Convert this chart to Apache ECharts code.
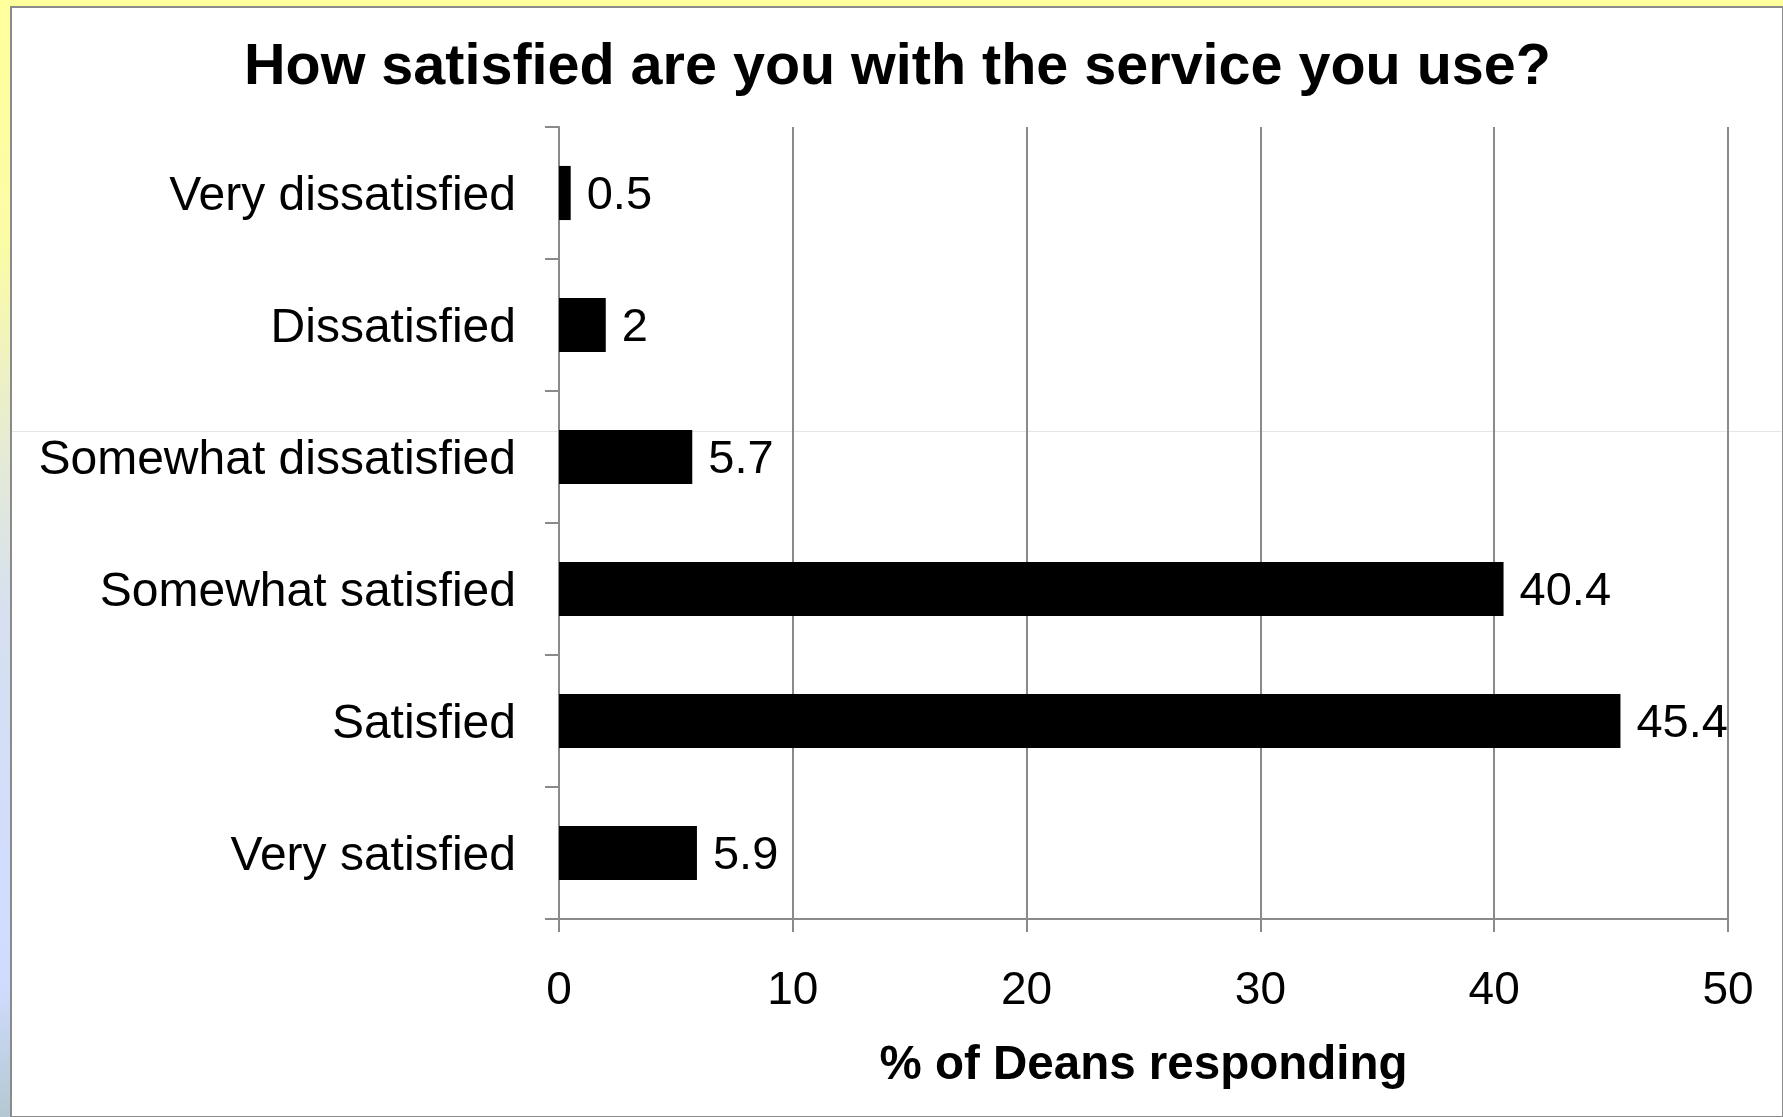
<!DOCTYPE html>
<html>
<head>
<meta charset="utf-8">
<script src="https://cdn.jsdelivr.net/npm/echarts@6/dist/echarts.min.js"></script>
<style>
html,body{margin:0;padding:0;background:#ffffff;}
#chart{width:1783px;height:1117px;}
</style>
</head>
<body>
<div id="chart"></div>
<script>
const titleText = 'How satisfied are you with the service you use?';
const axisTitle = '% of Deans responding';
const categories = ['Very dissatisfied','Dissatisfied','Somewhat dissatisfied','Somewhat satisfied','Satisfied','Very satisfied'];
const values = [0.5, 2, 5.7, 40.4, 45.4, 5.9];
const xTicks = [0, 10, 20, 30, 40, 50];

const FONT = '"Liberation Sans", Arial, sans-serif';
const chart = echarts.init(document.getElementById('chart'), null, {renderer: 'canvas'});
chart.setOption({
  backgroundColor: 'transparent',
  animation: false,
  graphic: [
    {type: 'rect', z: -10, silent: true, shape: {x: 0, y: 0, width: 1783, height: 1117}, style: {fill: '#ffff9c'}},
    {type: 'rect', z: -9, silent: true, shape: {x: 0, y: 0, width: 11, height: 1117},
      style: {fill: new echarts.graphic.LinearGradient(0, 0, 0, 1, [
        {offset: 0, color: '#ffff9c'},
        {offset: 0.22, color: '#fbfca6'},
        {offset: 0.4, color: '#e6ebd4'},
        {offset: 0.55, color: '#d6e0f0'},
        {offset: 0.75, color: '#d2ddfc'},
        {offset: 0.88, color: '#d0dcff'},
        {offset: 1, color: '#b4c8d2'}
      ])}},
    {type: 'rect', z: -8, silent: true, shape: {x: 11, y: 7, width: 1772, height: 1110}, style: {fill: '#ffffff', stroke: '#8a8a8a', lineWidth: 2}},
    {type: 'line', z: -7, silent: true, shape: {x1: 12, y1: 431.5, x2: 1781, y2: 431.5}, style: {stroke: '#e6e6e0', lineWidth: 1}}
  ],
  title: {
    text: titleText,
    left: 239,
    top: 34,
    textStyle: {fontFamily: FONT, fontWeight: 'bold', fontSize: 57.5, color: '#000'}
  },
  grid: {left: 559, right: 55, top: 127, bottom: 198, containLabel: false},
  xAxis: {
    type: 'value',
    min: 0, max: 50, interval: 10,
    name: axisTitle,
    nameLocation: 'middle',
    nameGap: 123,
    nameTextStyle: {fontFamily: FONT, fontWeight: 'bold', fontSize: 47.5, color: '#000'},
    axisLine: {show: true, lineStyle: {color: '#8a8a8a', width: 2}},
    axisTick: {show: true, length: 13, lineStyle: {color: '#8a8a8a', width: 2}},
    axisLabel: {margin: 49, fontFamily: FONT, fontSize: 46, color: '#000',
      formatter: function (v) { return xTicks.indexOf(v) >= 0 ? String(v) : ''; }},
    splitLine: {show: true, lineStyle: {color: '#8a8a8a', width: 2}}
  },
  yAxis: {
    type: 'category',
    inverse: true,
    data: categories,
    axisLine: {show: true, lineStyle: {color: '#8a8a8a', width: 2}},
    axisTick: {show: true, length: 14, lineStyle: {color: '#8a8a8a', width: 2}},
    axisLabel: {margin: 43, fontFamily: FONT, fontSize: 48, color: '#000', verticalAlign: 'top', lineHeight: 7},
    splitLine: {show: false}
  },
  series: [{
    type: 'bar',
    data: values,
    barCategoryGap: '59%',
    itemStyle: {color: '#000000'},
    label: {show: true, position: 'right', distance: 16, offset: [0, 3], fontFamily: FONT, fontSize: 47, color: '#000'}
  }]
});
</script>
</body>
</html>
